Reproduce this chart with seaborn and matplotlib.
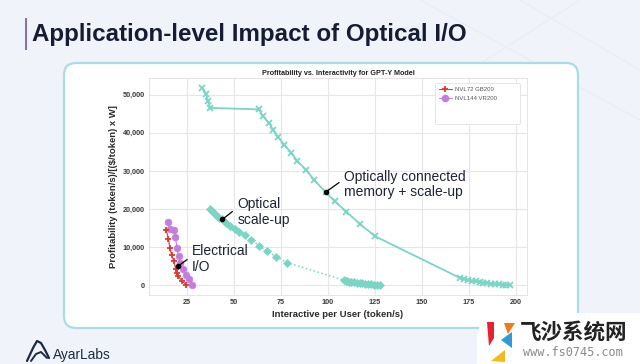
import matplotlib
matplotlib.use("Agg")
import matplotlib.pyplot as plt
import seaborn as sns
import numpy as np
from matplotlib.patches import FancyBboxPatch, Polygon, Rectangle
from matplotlib.lines import Line2D
from matplotlib.ticker import FuncFormatter

# ---------------- data ----------------
mem_x = [33.3, 35.5, 36.3, 37.6, 63.4, 65.6, 68.8, 70.9, 73.6, 76.8, 80.7, 83.9,
         88.7, 92.6, 98.9, 103.7, 110.0, 117.0, 125.2, 170.2, 172.3, 174.4, 176.5,
         178.6, 180.7, 182.8, 184.9, 187.0, 189.1, 191.2, 193.3, 195.0, 196.8]
mem_y = [51750, 50080, 48350, 46520, 46100, 44320, 42590, 40840, 38920, 36900, 34740, 32540,
         30180, 27750, 24420, 22070, 19300, 16150, 12900, 2000, 1700, 1450, 1230,
         1050, 880, 740, 610, 500, 400, 310, 230, 160, 90]

scaleup_x = [37.6, 38.5, 39.7, 41.0, 42.5, 44.0, 46.1, 48.3, 50.8, 53.0, 56.3, 59.4,
             63.6, 67.6, 72.7, 78.5, 108.5, 109.5, 110.5, 111.5, 112.5, 114.0, 115.5,
             117.0, 118.5, 120.0, 121.5, 123.0, 124.5, 126.0, 127.6]
scaleup_y = [19900, 19400, 18900, 18300, 17800, 17280, 16400, 15600, 14900, 14000, 13200, 11950,
             10450, 8950, 7550, 6000, 1400, 1250, 1120, 1000, 900, 800, 700,
             600, 520, 440, 360, 280, 210, 150, 90]

nvl72_x = [14.2, 15.4, 16.1, 17.1, 18.2, 19.3, 19.8, 20.5, 22.6, 24.7]
nvl72_y = [14500, 12300, 9800, 8000, 6400, 4300, 3300, 2400, 1300, 150]

nvl144_x = [15.2, 16.1, 18.2, 19.1, 20.0, 20.8, 21.8, 23.0, 24.5, 26.5, 28.0]
nvl144_y = [16600, 14800, 14500, 12600, 9700, 7700, 5800, 4400, 2700, 1600, 200]

legend_labels = ["NVL72 GB200", "NVL144 VR200"]
x_ticks = [25, 50, 75, 100, 125, 150, 175, 200]
y_ticks = [0, 10000, 20000, 30000, 40000, 50000]

annotations = [
    ("Optically connected\nmemory + scale-up", 98.9, 24420, 108.7, 26440, 0.69),
    ("Optical\nscale-up", 44.0, 17280, 52.0, 19240, 0.65),
    ("Electrical\nI/O", 20.4, 5050, 28.0, 6940, 0.60),
]

slide_title = "Application-level Impact of Optical I/O"
chart_title = "Profitability vs. Interactivity for GPT-Y Model"
x_label = "Interactive per User (token/s)"
y_label = "Profitability (token/s)/[($/token) x W]"

# ---------------- style ----------------
sns.set_theme(style="whitegrid")
plt.rcParams["font.family"] = ["Liberation Sans", "DejaVu Sans"]

W, H = 640, 364
fig = plt.figure(figsize=(W / 100, H / 100), dpi=100)
fig.patch.set_facecolor("#f0f3f9")

# background (pixel coordinates)
bg = fig.add_axes([0, 0, 1, 1], zorder=0)
bg.set_xlim(0, W)
bg.set_ylim(H, 0)
bg.axis("off")

for (x0, y0, x1, y1) in [(420, 0, 640, 120), (520, 0, 640, 70), (580, 0, 470, 70)]:
    bg.plot([x0, x1], [y0, y1], color="#e9edf5", lw=0.9, zorder=0)

# card
card = FancyBboxPatch((64, 63), 514, 265, boxstyle="round,pad=0,rounding_size=12",
                      facecolor="white", edgecolor="#a9dde6", lw=1.6, zorder=1)
bg.add_patch(card)

# purple bar + slide title
bg.add_patch(Rectangle((25, 18), 2.2, 32, facecolor="#8e6cbc", edgecolor="none", zorder=2))
bg.text(32, 34, slide_title, ha="left", va="center", fontsize=17.4, fontweight="bold",
        color="#161c33", zorder=2)

# AyarLabs logo
verts = [(27, 361), (33, 348), (37, 341), (41, 343), (45, 350), (49, 358)]
bg.plot([v[0] for v in verts], [v[1] for v in verts], color="#1c2a44", lw=1.6,
        solid_capstyle="round", zorder=2)
verts2 = [(31, 361), (36, 354), (41, 352), (47, 358)]
bg.plot([v[0] for v in verts2], [v[1] for v in verts2], color="#1c2a44", lw=1.4,
        solid_capstyle="round", zorder=2)
bg.text(53, 355, "AyarLabs", ha="left", va="center", fontsize=9.8, color="#1c2a44", zorder=2)

# watermark area
wm = FancyBboxPatch((477, 313), 220, 100, boxstyle="round,pad=0,rounding_size=28",
                    facecolor="white", edgecolor="none", zorder=3)
bg.add_patch(wm)
bg.add_patch(Polygon([(487, 322), (494, 322), (494, 338), (489, 346)], closed=True,
                     facecolor="#e8202a", edgecolor="none", zorder=4))
bg.add_patch(Polygon([(504, 323), (515, 323), (508, 334)], closed=True,
                     facecolor="#f07a1a", edgecolor="none", zorder=4))
bg.add_patch(Polygon([(501, 340), (512, 332), (512, 348)], closed=True,
                     facecolor="#2e9ad6", edgecolor="none", zorder=4))
bg.add_patch(Polygon([(491, 361), (505, 350), (505, 362)], closed=True,
                     facecolor="#f5b91c", edgecolor="none", zorder=4))
bg.text(520, 332, "飞沙系统网", ha="left", va="center", fontsize=15.5, fontweight="bold",
        color="#222222", family=["Noto Sans CJK SC", "DejaVu Sans"], zorder=4)
bg.text(523, 353, "www.fs0745.com", ha="left", va="center", fontsize=8.6,
        color="#8a8a8a", family=["DejaVu Sans Mono"], zorder=4)

# ---------------- chart ----------------
ax = fig.add_axes([149 / W, 1 - 295 / H, 378 / W, 217 / H], zorder=5)
ax.set_facecolor("white")

teal = "#79d6c5"
red = "#dd3a2f"
violet = "#c47ddf"

sns.lineplot(x=mem_x, y=mem_y, sort=False, ax=ax, color=teal, lw=1.3, marker="x",
             markersize=4, mec=teal, mew=1.3, legend=False)
sns.lineplot(x=scaleup_x, y=scaleup_y, sort=False, ax=ax, color=teal, lw=1.1, ls=":",
             marker="D", markersize=3.9, mec=teal, mfc=teal, mew=0.5, legend=False)
sns.lineplot(x=nvl144_x, y=nvl144_y, sort=False, ax=ax, color=violet, lw=0.8, marker="o",
             markersize=4.8, mec=violet, mfc=violet, mew=0.5, legend=False)
sns.lineplot(x=nvl72_x, y=nvl72_y, sort=False, ax=ax, color=red, lw=0.8, marker="+",
             markersize=5, mec=red, mew=1.3, legend=False)

ax.set_xticks(x_ticks)
ax.set_yticks(y_ticks)
ax.yaxis.set_major_formatter(FuncFormatter(lambda v, p: f"{v:,.0f}"))
ax.margins(x=0.05, y=0.05)
ax.tick_params(axis="both", length=0, pad=3, labelsize=5.2, labelcolor="#3a3a3a")
for lab in ax.get_xticklabels() + ax.get_yticklabels():
    lab.set_fontweight("bold")
ax.grid(True, color="#e6e6e6", lw=0.8)
for s in ax.spines.values():
    s.set_color("#e0e0e0")
    s.set_linewidth(0.6)

ax.set_title(chart_title, fontsize=5.2, fontweight="bold", color="#222222", pad=2.5)
ax.set_xlabel(x_label, fontsize=6.8, fontweight="bold", color="#2a2a2a", labelpad=2.5)
ax.set_ylabel(y_label, fontsize=6.8, fontweight="bold", color="#2a2a2a", labelpad=3.5)

# annotations
for text, xd, yd, xt, yt, rel in annotations:
    ax.plot([xd], [yd], "o", color="black", ms=3, zorder=6)
    ax.annotate(text, xy=(xd, yd), xytext=(xt, yt), ha="left", va="center",
                fontsize=10, color="#1d2336", linespacing=1.1, zorder=7,
                arrowprops=dict(arrowstyle="-", color="black", lw=0.9,
                                shrinkA=1.5, shrinkB=1.0, relpos=(0, rel)))

# legend
handles = [
    Line2D([], [], color=red, lw=0.8, marker="+", ms=5, mew=1.3, label=legend_labels[0]),
    Line2D([], [], color=violet, lw=0.8, marker="o", ms=4.5, label=legend_labels[1]),
    Line2D([], [], color="none", label=" "),
    Line2D([], [], color="none", label=" "),
]
leg = ax.legend(handles=handles, loc="upper left", bbox_to_anchor=(0.749, 0.991, 0.241, 0),
                mode="expand", fontsize=4.3, handlelength=2.2, labelspacing=0.75,
                frameon=True, framealpha=1, facecolor="white", edgecolor="#e2e2e2",
                borderpad=0.6, handletextpad=0.6)
leg.get_frame().set_linewidth(0.6)
for t in leg.get_texts():
    t.set_color("#555555")

fig.savefig("out.png", dpi=100, facecolor=fig.get_facecolor())
